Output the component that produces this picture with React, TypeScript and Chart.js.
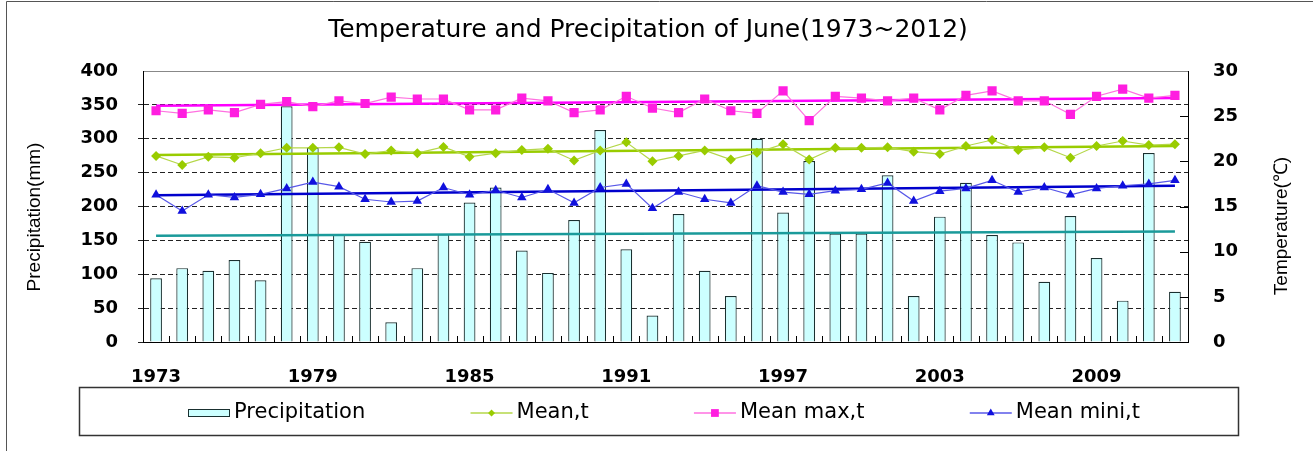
import React, { useEffect, useRef } from 'react';
import { Chart, registerables } from 'chart.js';

Chart.register(...registerables);

// ---------- data ----------
const years = [
  '1973', '1974', '1975', '1976', '1977', '1978', '1979', '1980', '1981', '1982',
  '1983', '1984', '1985', '1986', '1987', '1988', '1989', '1990', '1991', '1992',
  '1993', '1994', '1995', '1996', '1997', '1998', '1999', '2000', '2001', '2002',
  '2003', '2004', '2005', '2006', '2007', '2008', '2009', '2010', '2011', '2012',
];

const precipitation = [
  94, 109, 105, 121, 91, 348, 287, 159, 148, 29,
  109, 159, 206, 228, 135, 102, 180, 313, 137, 39,
  189, 105, 68, 300, 191, 267, 160, 160, 246, 68,
  185, 235, 158, 147, 89, 186, 124, 61, 279, 74,
];

const meanT = [
  20.6, 19.6, 20.5, 20.4, 20.9, 21.5, 21.5, 21.55, 20.8, 21.2,
  20.9, 21.6, 20.5, 20.9, 21.25, 21.4, 20.1, 21.2, 22.1, 20.0,
  20.6, 21.2, 20.2, 20.96, 21.9, 20.2, 21.5, 21.5, 21.55, 21.07,
  20.8, 21.7, 22.36, 21.25, 21.55, 20.4, 21.7, 22.25, 21.8, 21.9,
];

const meanMaxT = [
  25.6, 25.3, 25.7, 25.4, 26.3, 26.6, 26.05, 26.7, 26.4, 27.1,
  26.9, 26.9, 25.7, 25.7, 27.0, 26.7, 25.4, 25.7, 27.2, 25.9,
  25.4, 26.9, 25.6, 25.3, 27.8, 24.5, 27.2, 27.0, 26.7, 27.0,
  25.7, 27.3, 27.8, 26.7, 26.7, 25.2, 27.2, 28.0, 27.0, 27.3,
];

const meanMinT = [
  16.3, 14.5, 16.3, 16.0, 16.35, 17.0, 17.7, 17.2, 15.8, 15.5,
  15.6, 17.1, 16.3, 16.8, 16.0, 16.9, 15.4, 17.1, 17.5, 14.8,
  16.6, 15.8, 15.4, 17.3, 16.6, 16.35, 16.75, 16.9, 17.6, 15.6,
  16.7, 17.0, 17.9, 16.6, 17.1, 16.3, 17.0, 17.3, 17.5, 17.9,
];

// linear trend lines: [value at first year, value at last year]
const precipTrend = [157, 163];
const meanTrend = [20.7, 21.7];
const maxTrend = [26.15, 27.0];
const minTrend = [16.25, 17.3];

const seriesNames = ['Precipitation', 'Mean,t', 'Mean max,t', 'Mean mini,t'];
const titleText = 'Temperature and Precipitation of June(1973~2012)';
const leftAxisTitle = 'Precipitation(mm)';
const rightAxisTitle = 'Temperature(\u2103)';
const xLabelEvery = 6;

// ---------- styles ----------
const C = {
  barFill: '#ccffff',
  barBorder: '#1a3030',
  teal: '#1a9a9a',
  green: '#99cc00',
  greenLine: '#b5d74a',
  magenta: '#ff1ee0',
  magentaLine: '#ff70e0',
  magentaTrend: '#ff00ff',
  blue: '#1010dd',
  blueLine: '#5858e8',
  blueTrend: '#0000cc',
};

const endpoints = (pair: number[]) =>
  years.map((_, i) => (i === 0 ? pair[0] : i === years.length - 1 ? pair[1] : null));

function marker(ctx: CanvasRenderingContext2D, style: string, x: number, y: number, r: number, color: string) {
  ctx.save();
  ctx.fillStyle = color;
  ctx.beginPath();
  if (style === 'rect') {
    const s = r * Math.SQRT1_2;
    ctx.rect(x - s, y - s, 2 * s, 2 * s);
  } else if (style === 'rectRot') {
    ctx.moveTo(x, y - r);
    ctx.lineTo(x + r, y);
    ctx.lineTo(x, y + r);
    ctx.lineTo(x - r, y);
    ctx.closePath();
  } else {
    let a = 0;
    ctx.moveTo(x + Math.sin(a) * r, y - Math.cos(a) * r);
    a += (2 * Math.PI) / 3;
    ctx.lineTo(x + Math.sin(a) * r, y - Math.cos(a) * r);
    a += (2 * Math.PI) / 3;
    ctx.lineTo(x + Math.sin(a) * r, y - Math.cos(a) * r);
    ctx.closePath();
  }
  ctx.fill();
  ctx.restore();
}

const decorPlugin = {
  id: 'decor',
  beforeDraw(chart: any) {
    const { ctx, width, height } = chart;
    ctx.save();
    ctx.fillStyle = '#ffffff';
    ctx.fillRect(0, 0, width, height);
    ctx.strokeStyle = '#555';
    ctx.lineWidth = 1;
    ctx.beginPath();
    ctx.moveTo(6.5, height);
    ctx.lineTo(6.5, 1.5);
    ctx.lineTo(width, 1.5);
    ctx.stroke();
    ctx.restore();
  },
  afterDraw(chart: any) {
    const { ctx, chartArea } = chart;
    const xs = chart.scales.x;
    const y1 = chart.scales.y1;
    ctx.save();

    // inward tick marks on the category axis (between categories)
    ctx.strokeStyle = '#000';
    ctx.lineWidth = 1;
    ctx.beginPath();
    for (let i = 1; i < years.length; i++) {
      const x = Math.round((xs.getPixelForValue(i - 1) + xs.getPixelForValue(i)) / 2) + 0.5;
      ctx.moveTo(x, chartArea.bottom);
      ctx.lineTo(x, chartArea.bottom - 6);
    }
    // inward ticks on right axis
    for (let v = 5; v < 30; v += 5) {
      const y = Math.round(y1.getPixelForValue(v)) + 0.5;
      ctx.moveTo(chartArea.right, y);
      ctx.lineTo(chartArea.right - 8, y);
    }
    ctx.stroke();

    // title
    ctx.fillStyle = '#000';
    ctx.textAlign = 'center';
    ctx.textBaseline = 'alphabetic';
    ctx.font = '25px "DejaVu Sans"';
    ctx.fillText(titleText, 648, 37);

    // axis titles
    ctx.font = '19px "Liberation Sans"';
    ctx.textBaseline = 'middle';
    ctx.save();
    ctx.translate(35, 217);
    ctx.rotate(-Math.PI / 2);
    ctx.fillText(leftAxisTitle, 0, 0);
    ctx.restore();
    ctx.save();
    ctx.translate(1282, 226);
    ctx.rotate(-Math.PI / 2);
    ctx.fillText(rightAxisTitle, 0, 0);
    ctx.restore();

    // legend box
    ctx.strokeStyle = '#333';
    ctx.lineWidth = 1.5;
    ctx.strokeRect(79.5, 387.5, 1159, 48);

    const ly = 413;
    ctx.font = '21px "DejaVu Sans"';
    ctx.textAlign = 'left';
    ctx.textBaseline = 'middle';

    // entries laid out with equal gaps between legStart and legEnd
    const legStart = 188;
    const legEnd = 1140;
    const symW = 42;
    const symGap = 4;
    const widths = seriesNames.map((n) => symW + symGap + ctx.measureText(n).width);
    const total = widths.reduce((a, b) => a + b, 0);
    const gap = (legEnd - legStart - total) / (seriesNames.length - 1);

    const styles = [
      null,
      { line: C.greenLine, col: C.green, style: 'rectRot', r: 3.5 },
      { line: C.magentaLine, col: C.magenta, style: 'rect', r: 5.5 },
      { line: C.blueLine, col: C.blue, style: 'triangle', r: 4.5 },
    ];

    let x = legStart;
    seriesNames.forEach((name, k) => {
      const st = styles[k];
      if (!st) {
        ctx.fillStyle = C.barFill;
        ctx.fillRect(x, 409, symW, 8);
        ctx.strokeStyle = C.barBorder;
        ctx.lineWidth = 1;
        ctx.strokeRect(Math.round(x) + 0.5, 409.5, symW - 1, 7);
      } else {
        ctx.strokeStyle = st.line;
        ctx.lineWidth = 1.5;
        ctx.beginPath();
        ctx.moveTo(x, ly);
        ctx.lineTo(x + symW, ly);
        ctx.stroke();
        marker(ctx, st.style, x + symW / 2, ly, st.r, st.col);
      }
      ctx.fillStyle = '#000';
      ctx.fillText(name, x + symW + symGap, ly);
      x += widths[k] + gap;
    });

    ctx.restore();
  },
};

export default function App() {
  const ref = useRef<HTMLCanvasElement | null>(null);

  useEffect(() => {
    if (!ref.current) return;
    const tickFont = { family: '"DejaVu Sans"', size: 18, weight: 'bold' as const };
    const chart = new Chart(ref.current, {
      data: {
        labels: years,
        datasets: [
          {
            type: 'bar',
            label: seriesNames[0],
            data: precipitation,
            yAxisID: 'y',
            order: 10,
            backgroundColor: C.barFill,
            borderColor: C.barBorder,
            borderWidth: 1.2,
            barPercentage: 0.45,
            categoryPercentage: 1,
          },
          {
            type: 'line',
            label: 'precip trend',
            data: endpoints(precipTrend),
            yAxisID: 'y',
            order: 5,
            borderColor: C.teal,
            borderWidth: 2.5,
            pointRadius: 0,
            spanGaps: true,
          },
          {
            type: 'line',
            label: 'mean trend',
            data: endpoints(meanTrend),
            yAxisID: 'y1',
            order: 5,
            borderColor: C.green,
            borderWidth: 2.5,
            pointRadius: 0,
            spanGaps: true,
          },
          {
            type: 'line',
            label: 'max trend',
            data: endpoints(maxTrend),
            yAxisID: 'y1',
            order: 5,
            borderColor: C.magentaTrend,
            borderWidth: 2.5,
            pointRadius: 0,
            spanGaps: true,
          },
          {
            type: 'line',
            label: 'min trend',
            data: endpoints(minTrend),
            yAxisID: 'y1',
            order: 5,
            borderColor: C.blueTrend,
            borderWidth: 2.5,
            pointRadius: 0,
            spanGaps: true,
          },
          {
            type: 'line',
            label: seriesNames[1],
            data: meanT,
            yAxisID: 'y1',
            order: 1,
            borderColor: C.greenLine,
            borderWidth: 1.2,
            pointStyle: 'rectRot',
            pointRadius: 5,
            pointBackgroundColor: C.green,
            pointBorderColor: C.green,
            pointBorderWidth: 0,
          },
          {
            type: 'line',
            label: seriesNames[2],
            data: meanMaxT,
            yAxisID: 'y1',
            order: 1,
            borderColor: C.magentaLine,
            borderWidth: 1.2,
            pointStyle: 'rect',
            pointRadius: 6.5,
            pointBackgroundColor: C.magenta,
            pointBorderColor: C.magenta,
            pointBorderWidth: 0,
          },
          {
            type: 'line',
            label: seriesNames[3],
            data: meanMinT,
            yAxisID: 'y1',
            order: 1,
            borderColor: C.blueLine,
            borderWidth: 1.2,
            pointStyle: 'triangle',
            pointRadius: 5.5,
            pointBackgroundColor: C.blue,
            pointBorderColor: C.blue,
            pointBorderWidth: 0,
          },
        ],
      } as any,
      options: {
        responsive: false,
        animation: false,
        events: [],
        layout: { padding: { left: 20, top: 71, right: 0, bottom: 0 } },
        plugins: {
          legend: { display: false },
          title: { display: false },
          tooltip: { enabled: false },
        },
        scales: {
          x: {
            type: 'category',
            offset: true,
            grid: { display: false },
            border: { display: true, color: '#000', width: 1 },
            ticks: {
              autoSkip: false,
              maxRotation: 0,
              minRotation: 0,
              padding: 17,
              color: '#000',
              font: tickFont,
              callback: (_v: any, i: number) => (i % xLabelEvery === 0 ? years[i] : ''),
            },
            afterFit: (s: any) => {
              s.height = 109;
            },
          },
          y: {
            type: 'linear',
            position: 'left',
            min: 0,
            max: 400,
            grid: {
              drawTicks: true,
              tickLength: 5,
              color: (c: any) => (c.tick && c.tick.value === 400 ? '#888' : c.tick && c.tick.value === 0 ? 'rgba(0,0,0,0)' : '#222'),
              tickColor: (c: any) => (c.tick && c.tick.value === 400 ? 'rgba(0,0,0,0)' : '#222'),
              lineWidth: 1,
            },
            border: {
              display: true,
              color: '#000',
              width: 1,
              dash: (c: any) => (c.tick && c.tick.value === 400 ? [] : [5, 3]),
            },
            ticks: { stepSize: 50, padding: 20, color: '#000', font: tickFont },
            afterFit: (s: any) => {
              s.width = 123;
            },
          },
          y1: {
            type: 'linear',
            position: 'right',
            min: 0,
            max: 30,
            grid: { display: false, drawOnChartArea: false },
            border: { display: true, color: '#000', width: 1 },
            ticks: { stepSize: 5, padding: 17, color: '#000', font: tickFont },
            afterFit: (s: any) => {
              s.width = 125;
            },
          },
        },
      } as any,
      plugins: [decorPlugin],
    });
    return () => chart.destroy();
  }, []);

  return (
    <div style={{ position: 'fixed', left: 0, top: 0, width: 1313, height: 451, background: '#fff' }}>
      <canvas ref={ref} width={1313} height={451} style={{ width: 1313, height: 451, display: 'block' }} />
    </div>
  );
}
